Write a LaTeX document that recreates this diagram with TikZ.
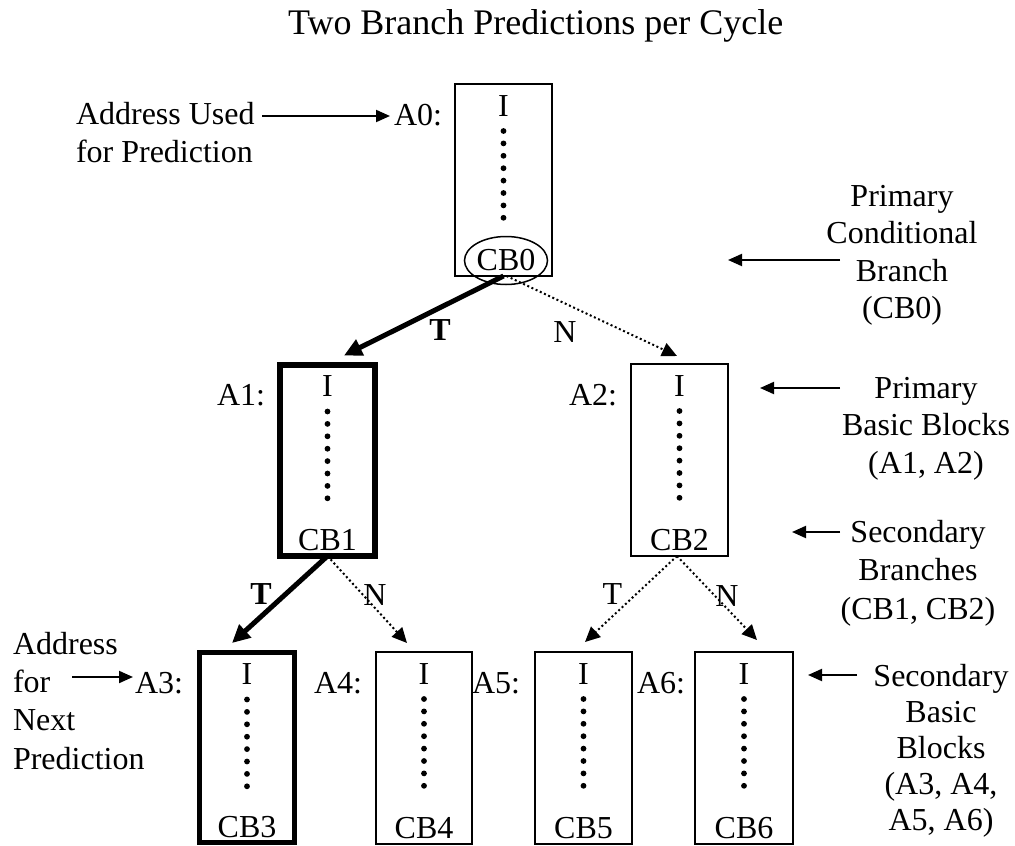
\documentclass[tikz,border=0pt]{standalone}
\usepackage{fontspec}
\setmainfont{Liberation Serif}
\usetikzlibrary{arrows.meta,shapes.geometric,calc}

\newcommand{\bodyfont}{\fontsize{32}{37.5}\selectfont}
\newcommand{\titlefont}{\fontsize{36}{40}\selectfont}

% "I", then a column of eight dots: #1 centre x, #2 top of the block, #3 name
\newcommand{\blockinner}[3]{%
  \node[txt, anchor=base] (#3i) at (#1,#2+32) {I};
  \foreach \k in {0,...,7} \fill (#1,{#2+47+12.4*\k}) circle[radius=2.9pt];
}

\begin{document}
\begin{tikzpicture}[x=1pt,y=-1pt,
  txt/.style={inner sep=0pt, outer sep=0pt, font=\bodyfont},
  blk/.style={draw, line width=1.6pt, inner sep=0pt, outer sep=0pt, minimum width=97pt, minimum height=192pt},
  hotblk/.style={blk, line width=5.5pt, minimum width=95pt, minimum height=191pt},
  taken/.style={line width=5pt, -{Triangle[length=18pt,width=17pt]}},
  nottaken/.style={line width=2pt, dash pattern=on 2pt off 2.6pt, -{Triangle[length=15pt,width=14pt]}},
  pointer/.style={line width=2pt, -{Triangle[length=14pt,width=12pt]}},
]
\useasboundingbox (0,0) rectangle (1015,846);

% title
\node[txt, font=\titlefont, anchor=base west] (title) at (288,34) {Two Branch Predictions per Cycle};

% ---- basic blocks ----
\node[blk] (A0) at (503.5,180) {};
\blockinner{503.5}{84}{A0}
\node[draw, ellipse, line width=1.5pt, inner sep=0pt, minimum width=80pt, minimum height=48pt, font=\bodyfont] (cb0) at (506,260.5) {CB0};
\node[txt, anchor=base east] (lA0) at (442,125) {A0:};

\node[hotblk] (A1) at (327.5,460.5) {};
\blockinner{327.5}{364.5}{A1}
\node[txt, anchor=base] (cb1) at (327.5,550.5) {CB1};
\node[txt, anchor=base east] (lA1) at (265,405.5) {A1:};

\node[blk] (A2) at (679.5,460) {};
\blockinner{679.5}{364}{A2}
\node[txt, anchor=base] (cb2) at (679.5,550) {CB2};
\node[txt, anchor=base east] (lA2) at (617,405) {A2:};

\node[hotblk, minimum height=190pt] (A3) at (247,747.5) {};
\blockinner{247}{652.5}{A3}
\node[txt, anchor=base] (cb3) at (247,837) {CB3};
\node[txt, anchor=base east] (lA3) at (183,693) {A3:};

\node[blk, minimum width=96pt] (A4) at (424,748) {};
\blockinner{424}{652}{A4}
\node[txt, anchor=base] (cb4) at (424,838) {CB4};
\node[txt, anchor=base east] (lA4) at (362,693) {A4:};

\node[blk] (A5) at (583.5,748) {};
\blockinner{583.5}{652}{A5}
\node[txt, anchor=base] (cb5) at (583.5,838) {CB5};
\node[txt, anchor=base east] (lA5) at (520,693) {A5:};

\node[blk, minimum width=98pt] (A6) at (744,748) {};
\blockinner{744}{652}{A6}
\node[txt, anchor=base] (cb6) at (744,838) {CB6};
\node[txt, anchor=base east] (lA6) at (685,693) {A6:};

% ---- branch outcomes ----
\draw[taken] (A0.south) -- ([xshift=16.5pt,yshift=9.5pt]A1.north);
\draw[nottaken] ([xshift=3pt]A0.south) -- ([xshift=-2.5pt,yshift=8pt]A2.north);
\draw[taken] (A1.south) -- ([xshift=-15pt,yshift=9.5pt]A3.north);
\draw[nottaken] (A1.south) -- ([xshift=-17pt,yshift=9pt]A4.north);
\draw[nottaken] ([xshift=-2.5pt]A2.south) -- ([xshift=1.5pt,yshift=10pt]A5.north);
\draw[nottaken] ([xshift=-2.5pt]A2.south) -- ([xshift=13pt,yshift=12pt]A6.north);

\node[txt, font=\bodyfont\bfseries] (t0) at (440,330) {T};
\node[txt] (n0) at (565,332) {N};
\node[txt, font=\bodyfont\bfseries] (t1) at (261,594) {T};
\node[txt] (n1) at (375,595) {N};
\node[txt] (t2) at (612.5,594) {T};
\node[txt] (n2) at (727,596) {N};

% ---- left annotations (base anchor = baseline of the last line) ----
\node[txt, align=left, anchor=base west] (addr0) at (76,162) {Address Used\\for Prediction};
\coordinate (addr0tail) at (262,116);
\draw[pointer, shorten >=4pt] (addr0tail) -- (addr0tail -| lA0.west);

\node[txt, align=left, anchor=base west, font=\fontsize{32}{38.3}\selectfont] (addr3) at (13,769) {Address\\for\\Next\\Prediction};
\coordinate (addr3tail) at (72,677);
\draw[pointer, shorten >=2pt] (addr3tail) -- (addr3tail -| lA3.west);

% ---- right annotations ----
\node[txt, align=center, anchor=base] (pcb) at (902,318.5) {Primary\\Conditional\\Branch\\(CB0)};
\coordinate (pcbtail) at (840,260);
\coordinate (pcbhead) at (728,260);
\draw[pointer] (pcbtail) -- (pcbhead);

\node[txt, align=center, anchor=base] (pbb) at (926,473) {Primary\\Basic Blocks\\(A1, A2)};
\coordinate (pbbtail) at (840,388);
\coordinate (pbbhead) at (760,388);
\draw[pointer] (pbbtail) -- (pbbhead);

\node[txt, align=center, anchor=base, font=\fontsize{32}{38.5}\selectfont] (sbr) at (918,619) {Secondary\\Branches\\(CB1, CB2)};
\coordinate (sbrtail) at (840,532);
\coordinate (sbrhead) at (792,532);
\draw[pointer] (sbrtail) -- (sbrhead);

\node[txt, align=center, anchor=base, font=\fontsize{32}{36}\selectfont] (sbb) at (941,830) {Secondary\\Basic\\Blocks\\(A3, A4,\\A5, A6)};
\coordinate (sbbtail) at (857,675);
\coordinate (sbbhead) at (808,675);
\draw[pointer] (sbbtail) -- (sbbhead);
\end{tikzpicture}
\end{document}
